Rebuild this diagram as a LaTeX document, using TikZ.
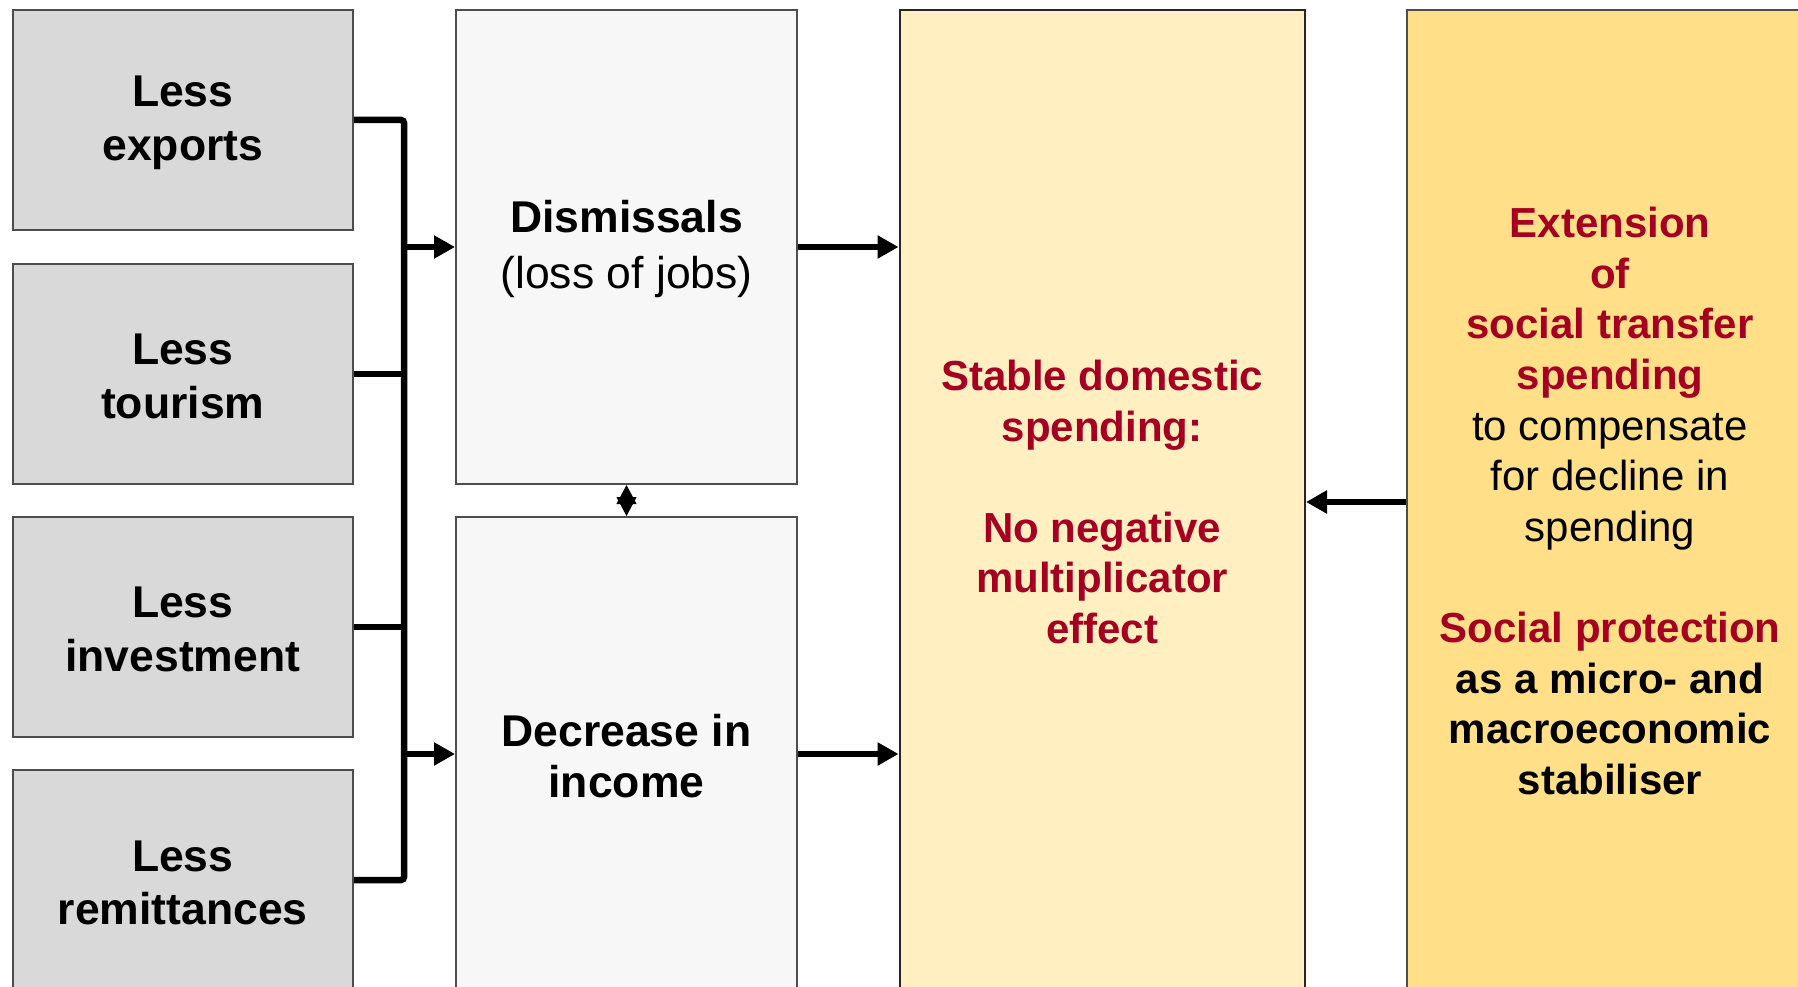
\documentclass[tikz,border=0pt]{standalone}
\usepackage{fontspec}
\setmainfont{Liberation Sans}
\usetikzlibrary{arrows.meta,calc}

\definecolor{dred}{HTML}{A50021}
\definecolor{boxgray}{HTML}{D9D9D9}
\definecolor{boxlight}{HTML}{F7F7F7}
\definecolor{paleyellow}{HTML}{FFEFC1}
\definecolor{goldyellow}{HTML}{FFE089}
\definecolor{edge}{HTML}{4D4D4D}

\newcommand{\redbf}[1]{\textcolor{dred}{\bfseries #1}}

\tikzset{
  x=1pt, y=-1pt,
  box/.style={draw=edge, line width=2pt, rectangle, anchor=north west, inner sep=0pt},
  causebox/.style={box, fill=boxgray, minimum width=340.5, minimum height=220},
  effectbox/.style={box, fill=boxlight, minimum width=341, minimum height=474},
  stablebox/.style={box, draw=black!85, fill=paleyellow, minimum width=405.5, minimum height=984},
  policybox/.style={box, fill=goldyellow, minimum width=406, minimum height=984},
  txt/.style 2 args={align=center, inner sep=0pt, font=\fontsize{#1}{#2}\selectfont},
  boldtxt/.style 2 args={align=center, inner sep=0pt, font=\fontsize{#1}{#2}\selectfont\bfseries},
  bus/.style={line width=6.5pt, rounded corners=3pt},
  arr/.style={line width=6.5pt, -{Triangle[length=21pt, width=22pt]}},
  halfdbl/.style={line width=1pt, -{Triangle[length=19pt, width=20pt]}},
}

\begin{document}
\begin{tikzpicture}
  \useasboundingbox (0,0) rectangle (1798,987);
  \fill[white] (0,0) rectangle (1798,987);
  \clip (0,0) rectangle (1798,987);

  % shocks
  \node[causebox] (exp) at (11.5,9)   {};
  \node[causebox] (tou) at (11.5,263) {};
  \node[causebox] (inv) at (11.5,516) {};
  \node[causebox] (rem) at (11.5,769) {};
  \node[boldtxt={44.5}{54}] (expT) at ([yshift=-2.4pt]exp.center) {Less\\exports};
  \node[boldtxt={44.5}{54}] (touT) at ([yshift=-2.4pt]tou.center) {Less\\tourism};
  \node[boldtxt={44.5}{54}] (invT) at ([yshift=-2.4pt]inv.center) {Less\\investment};
  \node[boldtxt={44.5}{53}] (remT) at ([yshift=-2.4pt]rem.center) {Less\\remittances};

  % immediate effects
  \node[effectbox] (dis) at (455,9)   {};
  \node[effectbox] (dec) at (455,516) {};
  \node[txt={44.5}{56}] (disT) at ([yshift=-2.3pt]dis.center) {\textbf{Dismissals}\\(loss of jobs)};
  \node[txt={44.5}{51.6}] (decT) at ([yshift=-2.2pt]dec.center) {\textbf{Decrease in}\\\textbf{income}};

  % outcome
  \node[stablebox] (yel) at (898.5,9) {};
  \node[txt={42}{50.6}] (yelT) at (yel.center) {%
    \redbf{Stable domestic}\\\redbf{spending:}\\~\\%
    \redbf{No negative}\\\redbf{multiplicator}\\\redbf{effect}};

  % policy response
  \node[policybox] (pol) at (1406,9) {};
  \node[txt={42}{50.6}] (polT) at ([yshift=1pt]pol.center) {%
    \redbf{Extension}\\\redbf{of}\\\redbf{social transfer}\\\redbf{spending}\\%
    to compensate\\for decline in\\spending\\~\\%
    \redbf{Social protection}\\\textbf{as a micro- and}\\\textbf{macroeconomic}\\\textbf{stabiliser}};

  % collecting bus
  \coordinate (bx) at (404,0);
  \draw[bus] (exp.east) -- (exp.east -| bx) -- (rem.east -| bx) -- (rem.east);
  \draw[bus] (tou.east) -- (tou.east -| bx);
  \draw[bus] (inv.east) -- (inv.east -| bx);
  \draw[arr] (dis.west -| bx) -- (dis.west);
  \draw[arr] (dec.west -| bx) -- (dec.west);

  % two-way link between the effects
  \coordinate (mid) at ($(dis.south)!0.5!(dec.north)$);
  \draw[halfdbl] (mid) -- (dis.south);
  \draw[halfdbl] (mid) -- (dec.north);

  % links into the outcome
  \draw[arr] (dis.east) -- (dis.east -| yel.west);
  \draw[arr] (dec.east) -- (dec.east -| yel.west);
  \draw[arr] (pol.west) -- (pol.west -| yel.east);
\end{tikzpicture}
\end{document}
